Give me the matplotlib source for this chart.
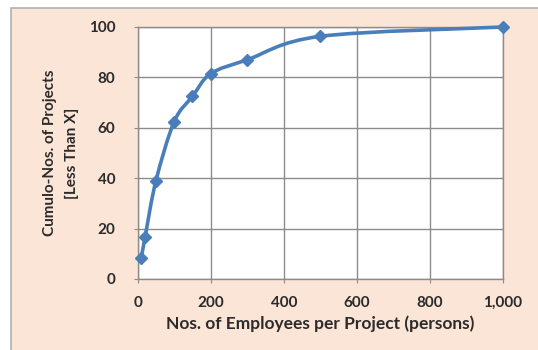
import numpy as np
import matplotlib
matplotlib.use("Agg")
import matplotlib.pyplot as plt
from matplotlib.path import Path
from matplotlib.patches import PathPatch, Rectangle

# employees per project vs cumulative no. of projects (less than x)
employees = [10, 20, 50, 100, 150, 200, 300, 500, 1000]
cum_projects = [8.5, 16.5, 39, 62.5, 72.5, 81.5, 87, 96.3, 100]

x_ticks = [0, 200, 400, 600, 800, 1000]
x_ticklabels = ["0", "200", "400", "600", "800", "1,000"]
y_ticks = [0, 20, 40, 60, 80, 100]

bg = "#fbe5d6"
blue = "#4a7ebb"
grid = "#8c8c8c"
txt = "#2b2b2b"

plt.rcParams["font.family"] = ["Lato", "DejaVu Sans"]

fig = plt.figure(figsize=(5.38, 3.5), dpi=100)
fig.patch.set_facecolor("white")
# peach chart area with a grey rule on top and left
fig.patches.append(Rectangle((11 / 538, -0.1), 1.1, 1.1 - 8 / 350, transform=fig.transFigure,
                             facecolor=bg, edgecolor="#b0b0b0", linewidth=1.2, zorder=-10))

ax = fig.add_axes([137.7 / 538, 1 - 279 / 350, (503 - 137.7) / 538, (279 - 27) / 350])
ax.set_facecolor("white")
ax.set_xlim(0, 1000)
ax.set_ylim(0, 100)

# smoothed line (cubic bezier through the points, tangents in screen proportions)
sx, sy = 365.0 / 1000, 252.0 / 100
P = np.column_stack([np.array(employees) * sx, np.array(cum_projects) * sy])
n = len(P)
verts = [tuple(P[0])]
codes = [Path.MOVETO]
for i in range(n - 1):
    p0 = P[i - 1] if i > 0 else P[i]
    p1, p2 = P[i], P[i + 1]
    p3 = P[i + 2] if i + 2 < n else P[i + 1]
    c1 = p1 + (p2 - p0) / 6
    c2 = p2 - (p3 - p1) / 6
    verts += [tuple(c1), tuple(c2), tuple(p2)]
    codes += [Path.CURVE4] * 3
verts = [(vx / sx, vy / sy) for vx, vy in verts]
ax.add_patch(PathPatch(Path(verts, codes), facecolor="none", edgecolor=blue,
                       linewidth=2.6, zorder=3, clip_on=False, capstyle="round"))
ax.plot(employees, cum_projects, linestyle="none", marker="D", markersize=6.5,
        color=blue, zorder=4, clip_on=False)

ax.set_xticks(x_ticks)
ax.set_xticklabels(x_ticklabels)
ax.set_yticks(y_ticks)
ax.grid(True, color=grid, linewidth=1.0)
ax.set_axisbelow(True)
for s in ax.spines.values():
    s.set_color(grid)
    s.set_linewidth(1.0)
ax.tick_params(axis="both", direction="out", length=3, color=grid,
               labelsize=11, labelcolor=txt)
ax.tick_params(axis="y", pad=13)
ax.tick_params(axis="x", pad=9)
for lab in ax.get_xticklabels() + ax.get_yticklabels():
    lab.set_fontweight("bold")

ax.set_xlabel("Nos. of Employees per Project (persons)", fontsize=12.5,
              fontweight="bold", color=txt, labelpad=4)
ax.set_ylabel("Cumulo-Nos. of Projects\n[Less Than X]", fontsize=11,
              fontweight="bold", color=txt, labelpad=7, linespacing=1.7)

fig.savefig("out.png", dpi=100, facecolor=fig.get_facecolor())
